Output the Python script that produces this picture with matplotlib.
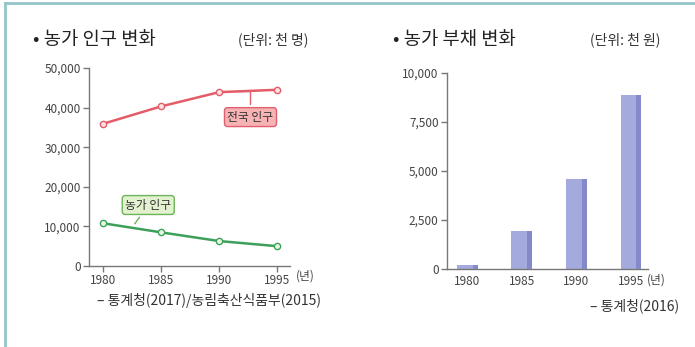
import matplotlib
matplotlib.use("Agg")
import matplotlib.pyplot as plt
from matplotlib.lines import Line2D

plt.rcParams['font.family'] = ['Noto Sans CJK KR', 'DejaVu Sans']

years = [1980, 1985, 1990, 1995]
total_pop = [35900, 40300, 43900, 44500]
farm_pop = [10800, 8500, 6300, 5000]
debt = [200, 1950, 4600, 8900]
pop_ticks = [0, 10000, 20000, 30000, 40000, 50000]
debt_ticks = [0, 2500, 5000, 7500, 10000]

W, H = 695, 347
fig = plt.figure(figsize=(W / 100, H / 100), dpi=100)
fig.patch.set_facecolor('white')


def px_axes(x0, y0, x1, y1):
    # pixel box (top-left origin) -> figure axes
    return fig.add_axes([x0 / W, 1 - y1 / H, (x1 - x0) / W, (y1 - y0) / H])


def style(ax):
    for s in ['top', 'right']:
        ax.spines[s].set_visible(False)
    for s in ['left', 'bottom']:
        ax.spines[s].set_color('#777777')
        ax.spines[s].set_linewidth(1.0)
    ax.tick_params(colors='#777777', length=4, width=1, labelsize=8.5,
                   labelcolor='#444444', pad=2)
    ax.set_facecolor('none')


# frame lines of the card
fig.add_artist(Line2D([5 / W, 5 / W], [0, 1 - 3 / H], color='#93c5c9', lw=2))
fig.add_artist(Line2D([5 / W, 1], [1 - 3 / H, 1 - 3 / H], color='#93c5c9', lw=2))

# ---- left: farm population
ax1 = px_axes(89, 68, 290, 266)
style(ax1)
ax1.plot(years, total_pop, color='#e45c68', lw=1.8, marker='o', ms=4.5,
         mfc='#fbe3e3', mec='#e45c68', mew=1)
ax1.plot(years, farm_pop, color='#3da05a', lw=1.8, marker='o', ms=4.5,
         mfc='#eaf6e4', mec='#3da05a', mew=1)
ax1.set_xlim(1978.8, 1996.1)
ax1.set_ylim(0, 50000)
ax1.set_xticks(years)
ax1.set_yticks(pop_ticks)
ax1.set_yticklabels([f'{v:,}' for v in pop_ticks])

ax1.annotate('전국 인구', xy=(1991.2, 44100), xytext=(1992.7, 37600),
             ha='center', va='center', fontsize=8.5, color='#333333',
             bbox=dict(boxstyle='round,pad=0.25', fc='#f7b2b4', ec='#e06070', lw=1),
             arrowprops=dict(arrowstyle='-', color='#e06070', lw=1,
                             connectionstyle='angle,angleA=90,angleB=0,rad=0'))
ax1.annotate('농가 인구', xy=(1982.6, 10100), xytext=(1983.9, 15400),
             ha='center', va='center', fontsize=8.5, color='#333333',
             bbox=dict(boxstyle='round,pad=0.25', fc='#e2f2cf', ec='#6cb45a', lw=1),
             arrowprops=dict(arrowstyle='-', color='#6cb45a', lw=1))

fig.text(33 / W, 1 - 40 / H, '• 농가 인구 변화', fontsize=13.5, color='#222222',
         va='center', ha='left')
fig.text(238 / W, 1 - 40 / H, '(단위: 천 명)', fontsize=10, color='#333333',
         va='center', ha='left')
fig.text(296 / W, 1 - 276 / H, '(년)', fontsize=8.5, color='#444444',
         va='center', ha='left')
fig.text(97 / W, 1 - 301 / H, '– 통계청(2017)/농림축산식품부(2015)', fontsize=10,
         color='#333333', va='center', ha='left')

# ---- right: farm debt
ax2 = px_axes(447, 73, 648, 269)
style(ax2)
pos = list(range(len(years)))
bw = 0.38
ax2.bar(pos, debt, width=bw, color='#a4aadd', edgecolor='none', zorder=2)
ax2.bar([p + bw * 0.38 for p in pos], debt, width=bw * 0.24,
        color='#8389c9', edgecolor='none', zorder=3)
ax2.set_xlim(-0.37, 3.31)
ax2.set_ylim(0, 10000)
ax2.set_xticks(pos)
ax2.set_xticklabels([str(y) for y in years])
ax2.tick_params(axis='x', length=0, pad=4)
ax2.set_yticks(debt_ticks)
ax2.set_yticklabels([f'{v:,}' for v in debt_ticks])

fig.text(393 / W, 1 - 40 / H, '• 농가 부채 변화', fontsize=13.5, color='#222222',
         va='center', ha='left')
fig.text(590 / W, 1 - 40 / H, '(단위: 천 원)', fontsize=10, color='#333333',
         va='center', ha='left')
fig.text(647 / W, 1 - 280 / H, '(년)', fontsize=8.5, color='#444444',
         va='center', ha='left')
fig.text(590 / W, 1 - 306 / H, '– 통계청(2016)', fontsize=10,
         color='#333333', va='center', ha='left')

fig.savefig('out.png', dpi=100)
